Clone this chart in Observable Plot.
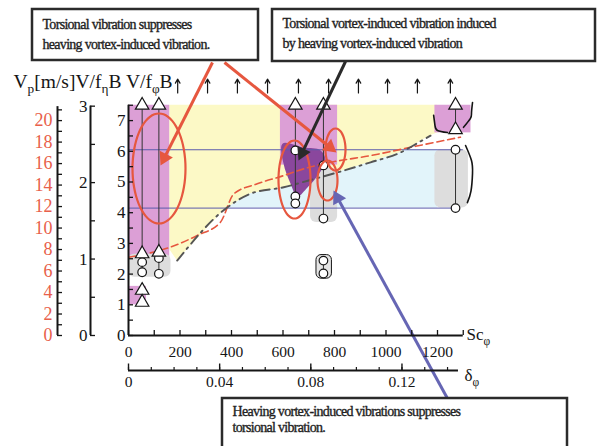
<!DOCTYPE html>
<html>
<head>
<meta charset="utf-8">
<script src="https://cdn.jsdelivr.net/npm/d3@7"></script>
<script src="https://cdn.jsdelivr.net/npm/@observablehq/plot@0.6"></script>
<style>
html,body{margin:0;padding:0;background:#fff;}
#chart svg{display:block;}
</style>
</head>
<body>
<div id="chart"></div>
<script>
// ---------------- data ----------------
// Sc_phi axis ticks / labels
const scTicks = d3.range(0, 1301, 100);
const scLabels = [0, 200, 400, 600, 800, 1000, 1200];
// delta_phi axis ticks / labels
const deltaTicks = d3.range(0, 15).map(i => i / 100);
const deltaMajor = [0, 0.04, 0.08, 0.12];
const deltaLabels = ["0", "0.04", "0.08", "0.12"];
// V/f_phi B axis
const vTicks = d3.range(0, 16).map(i => i / 2);
const vLabels = [0, 1, 2, 3, 4, 5, 6, 7];
// V/f_eta B axis
const etaTicks = [0, 0.5, 1, 1.5, 2, 2.5, 3];
const etaLabels = [0, 1, 2, 3];
// Vp [m/s] axis
const vpTicks = d3.range(0, 22);
const vpLabels = d3.range(0, 21, 2);

// red dashed boundary  [Sc, V/f_phi B]
const redDash = [[1,2.55],[163,2.88],[267,3.26],[357,3.69],[409,4.61],[500,4.94],[603,5.21],[681,5.43],[791,5.65],[940,5.86],[1095,6.13],[1289,6.46]];
// grey dash-dot boundary
const dashDot = [[189,2.44],[377,4.13],[474,4.62],[603,4.83],[700,5.05],[811,5.31],[940,5.64],[1056,5.96],[1127,6.29],[1173,6.51]];
// lower edge of the yellow zone
const yellowEdge = [[160,2.8],[189,2.44],[377,4.13],[474,4.62],[603,4.83],[700,5.05],[811,5.31],[940,5.64],[1056,5.96],[1127,6.29],[1173,6.51],[1200,6.6]];
const yellowTop = 7.5;
// coloured zones
const cyanZones = [{x1:160, x2:1200, y1:4.15, y2:6.05}];
const pinkZones = [
  {x1:0, x2:160, y1:2.55, y2:7.5},
  {x1:0, x2:70, y1:1.0, y2:1.6},
  {x1:590, x2:812, y1:5.55, y2:7.5},
  {x1:1190, x2:1330, y1:6.6, y2:7.5}
];
const greyZones = [
  {x1:0, x2:165, y1:1.9, y2:2.65},
  {x1:707, x2:812, y1:3.68, y2:5.45},
  {x1:1190, x2:1320, y1:4.15, y2:6.05}
];
const greyBlob = [{x1:730, x2:790, y1:1.85, y2:2.62}];
const purpleZone = [[598,6.25],[680,6.12],[746,6.03],[765,5.7],[726,5.11],[695,4.82],[656,4.53],[629,4.95],[602,5.6]];
// horizontal blue lines
const hLines = [{v:6.05, x1:0, x2:1300}, {v:4.15, x1:0, x2:1270}];
// vertical measurement ranges
const colLines = [
  {sc:53, v1:2.06, v2:7.5}, {sc:118, v1:2.01, v2:7.5}, {sc:53, v1:1.08, v2:1.47},
  {sc:648, v1:4.3, v2:7.5}, {sc:757, v1:3.81, v2:7.5}, {sc:757, v1:2.02, v2:2.44},
  {sc:1270, v1:4.15, v2:6.05}, {sc:1270, v1:6.7, v2:7.5}
];
const circles = [[53,2.39],[53,2.06],[118,2.52],[118,2.01],[648,6.03],[648,4.53],[648,4.3],[757,5.54],[757,3.81],[757,2.44],[757,2.02],[1270,6.05],[1270,4.15]];
const triangles = [[53,7.5],[118,7.5],[53,2.66],[118,2.71],[53,1.47],[53,1.08],[648,7.5],[757,7.5],[1270,7.5],[1270,6.7]];
// "beyond range" up arrows
const arrowCols = [191, 307, 423, 540, 660, 777, 893, 1006, 1122, 1250];
const arrowFrom = 7.9, arrowTo = 8.35;
// hand-drawn brackets
const brackets = [
  {id:"a", pts:[[1309,6.19],[1332,5.7],[1336,5.28],[1330,4.7],[1316,4.33]]},
  {id:"b", pts:[[1185,7.17],[1190,6.85],[1200,6.68],[1239,6.61]]},
  {id:"c", pts:[[1336,7.59],[1332,7.25],[1328,7.07],[1301,6.78]]}
];

// unit conversions of the secondary axes
const VP_TO_V = 0.35, ETA_TO_V = 2.49, DELTA_TO_SC = 8850;

// ---------------- layout ----------------
const W = 597, H = 446;
const X0 = 128, Y0 = 335, KX = 0.2575, KY = 30.7; // px of origin, px per unit
const px2x = px => (px - X0) / KX;
const py2y = py => (Y0 - py) / KY;
const xDomain = [px2x(0), px2x(W)];
const yDomain = [py2y(H), py2y(0)];
const SERIF = "Liberation Serif";
const C = {
  pink: "#dc9fd6", yellow: "#fcf9c6", cyan: "#e2f4fa", grey: "#dddddd",
  purple: "#8a479d", red: "#e6573f", blue: "#5b5bab", navy: "#6666b4",
  ink: "#151515", dash: "#555555"
};
const TX = 5 / KX, TY = 5 / KY;   // 5px tick lengths in data units

// annotation boxes (px layout)
const boxes = [
  {x1:32, x2:258, y1:9, y2:60},
  {x1:272, x2:595, y1:9, y2:61},
  {x1:222, x2:567, y1:398, y2:470}
];
const boxText = [
  {x:42, y:28, t:"Torsional vibration suppresses"},
  {x:42, y:48, t:"heaving vortex-induced vibration."},
  {x:282, y:27, t:"Torsional vortex-induced vibration induced"},
  {x:282, y:47, t:"by heaving vortex-induced vibration"},
  {x:232, y:415, t:"Heaving vortex-induced vibrations suppresses"},
  {x:232, y:431, t:"torsional vibration."}
];
const annoArrows = [
  {x1:212, y1:62, x2:160, y2:165, c:C.red},
  {x1:224, y1:62, x2:336, y2:152, c:C.red},
  {x1:345, y1:61, x2:298, y2:160, c:"#2a2a2a"},
  {x1:447, y1:398, x2:333, y2:190, c:C.navy}
];
const ellipses = [
  {cx:158.5, cy:168, rx:26.5, ry:55},
  {cx:294, cy:179, rx:16, ry:39},
  {cx:335, cy:149, rx:10, ry:21},
  {cx:327, cy:180, rx:10, ry:20}
];

// arrow geometry in px, converted to data units
const HEAD_R = 5.5;
const headTip = Math.sqrt(Math.PI * HEAD_R * HEAD_R / (Math.sqrt(3) * 3)) * 2;
const arrowLines = [], arrowHeads = [];
annoArrows.forEach((a, i) => {
  const dx = a.x2 - a.x1, dy = a.y2 - a.y1, L = Math.hypot(dx, dy);
  const ux = dx / L, uy = dy / L;
  arrowLines.push({x1:px2x(a.x1), y1:py2y(a.y1), x2:px2x(a.x2 - ux*8), y2:py2y(a.y2 - uy*8), c:a.c});
  arrowHeads.push({x:px2x(a.x2 - ux*headTip), y:py2y(a.y2 - uy*headTip), rot:Math.atan2(dx, -dy)*180/Math.PI, c:a.c});
});
const ellipsePts = [];
ellipses.forEach((e, k) => {
  d3.range(0, 360, 10).forEach(a => {
    const r = a * Math.PI / 180;
    ellipsePts.push({k, x:px2x(e.cx + e.rx*Math.cos(r)), y:py2y(e.cy + e.ry*Math.sin(r))});
  });
});

const topLabel = [{x:px2x(13), y:py2y(87), t:"V_{p}[m/s]V/f_{η}B V/f_{φ}B"}];
const axisNames = [
  {x:px2x(466), y:py2y(339), t:"Sc_{φ}"},
  {x:px2x(464), y:py2y(380), t:"δ_{φ}"}
];

const chart = Plot.plot({
  width: W, height: H, margin: 0,
  x: {domain: xDomain, axis: null},
  y: {domain: yDomain, axis: null},
  style: {fontFamily: SERIF, background: "#fff", color: C.ink},
  marks: [
    // zones
    Plot.rect(cyanZones, {x1:"x1", x2:"x2", y1:"y1", y2:"y2", fill:C.cyan}),
    Plot.areaY(yellowEdge, {x:d=>d[0], y1:d=>d[1], y2:yellowTop, fill:C.yellow}),
    Plot.rect(pinkZones, {x1:"x1", x2:"x2", y1:"y1", y2:"y2", fill:C.pink}),
    Plot.rect(greyZones, {x1:"x1", x2:"x2", y1:"y1", y2:"y2", fill:C.grey, rx:6}),
    Plot.rect(greyBlob, {x1:"x1", x2:"x2", y1:"y1", y2:"y2", fill:"#e4e4e4", stroke:C.ink, strokeWidth:1, rx:5}),
    Plot.line(purpleZone, {x:d=>d[0], y:d=>d[1], fill:C.purple, stroke:"none", curve:"catmull-rom-closed"}),
    // reference lines
    Plot.ruleY(hLines, {y:"v", x1:"x1", x2:"x2", stroke:C.blue, strokeWidth:1}),
    Plot.line(redDash, {x:d=>d[0], y:d=>d[1], stroke:C.red, strokeWidth:1.6, strokeDasharray:"7,4", curve:"monotone-x"}),
    Plot.line(dashDot, {x:d=>d[0], y:d=>d[1], stroke:C.dash, strokeWidth:1.9, strokeDasharray:"10,5,2,5", curve:"monotone-x"}),
    // brackets
    ...brackets.map(b => Plot.line(b.pts, {x:d=>d[0], y:d=>d[1], stroke:C.ink, strokeWidth:1.6, curve:"natural"})),
    // measured ranges
    Plot.ruleX(colLines, {x:"sc", y1:"v1", y2:"v2", stroke:"#333", strokeWidth:1}),
    Plot.dot(circles, {x:d=>d[0], y:d=>d[1], r:4.3, fill:"#fff", stroke:C.ink, strokeWidth:1.2}),
    Plot.dot(triangles, {x:d=>d[0], y:d=>d[1], symbol:"triangle", r:5, fill:"#fff", stroke:C.ink, strokeWidth:1.2}),
    Plot.arrow(arrowCols, {x1:d=>d, x2:d=>d, y1:arrowFrom, y2:arrowTo, stroke:C.ink, strokeWidth:1.2, headLength:6}),
    // red ellipses
    Plot.line(ellipsePts, {x:"x", y:"y", z:"k", stroke:C.red, strokeWidth:2.2, curve:"catmull-rom-closed"}),
    // annotation arrows
    Plot.link(arrowLines, {x1:"x1", y1:"y1", x2:"x2", y2:"y2", stroke:d=>d.c, strokeWidth:3}),
    Plot.dot(arrowHeads, {x:"x", y:"y", rotate:"rot", symbol:"triangle", r:HEAD_R, fill:d=>d.c, stroke:"none"}),
    // main y axis (V/f_phi B)
    Plot.ruleX([0], {y1:0, y2:7.5, stroke:C.ink, strokeWidth:2}),
    Plot.ruleY(vTicks, {y:d=>d, x1:0, x2:TX, stroke:C.ink, strokeWidth:1.3}),
    Plot.text(vLabels, {x:0, y:d=>d, text:d=>String(d), textAnchor:"end", dx:-3, fontSize:17, fontFamily:SERIF, fill:C.ink}),
    // V/f_eta B axis
    Plot.ruleX([0], {y1:0, y2:3*ETA_TO_V, dx:-38, stroke:C.ink, strokeWidth:2}),
    Plot.ruleY(etaTicks, {y:d=>d*ETA_TO_V, x1:0, x2:TX, dx:-38, stroke:C.ink, strokeWidth:1.3}),
    Plot.text(etaLabels, {x:0, y:d=>d*ETA_TO_V, text:d=>String(d), textAnchor:"end", dx:-41, fontSize:17, fontFamily:SERIF, fill:C.ink}),
    // Vp axis
    Plot.ruleX([0], {y1:0, y2:21.3*VP_TO_V, dx:-71, stroke:C.ink, strokeWidth:2}),
    Plot.ruleY(vpTicks, {y:d=>d*VP_TO_V, x1:0, x2:TX, dx:-71, stroke:C.ink, strokeWidth:1.3}),
    Plot.text(vpLabels, {x:0, y:d=>d*VP_TO_V, text:d=>String(d), textAnchor:"end", dx:-76, fontSize:18, fontFamily:SERIF, fill:"#e8604a"}),
    // Sc axis
    Plot.ruleY([0], {x1:0, x2:1300, stroke:C.ink, strokeWidth:2}),
    Plot.ruleX(scTicks, {x:d=>d, y1:0, y2:TY, stroke:C.ink, strokeWidth:1.3}),
    Plot.text(scLabels, {x:d=>d, y:0, text:d=>String(d), dy:17, fontSize:15.5, fontFamily:SERIF, fill:C.ink}),
    // delta axis
    Plot.ruleY([0], {x1:0, x2:0.1448*DELTA_TO_SC, dy:35, stroke:C.ink, strokeWidth:2}),
    Plot.ruleX(deltaTicks, {x:d=>d*DELTA_TO_SC, y1:0, y2:TY*0.6, dy:35, stroke:C.ink, strokeWidth:1.2}),
    Plot.ruleX(deltaMajor, {x:d=>d*DELTA_TO_SC, y1:0, y2:TY*1.3, dy:35, stroke:C.ink, strokeWidth:1.4}),
    Plot.text(deltaMajor, {x:d=>d*DELTA_TO_SC, y:0, text:(d,i)=>deltaLabels[i], dy:47, fontSize:15.5, fontFamily:SERIF, fill:C.ink}),
    // axis names
    Plot.text(topLabel, {x:"x", y:"y", text:"t", textAnchor:"start", lineAnchor:"bottom", fontSize:19.5, fontFamily:SERIF, fill:C.ink}),
    Plot.text(axisNames, {x:"x", y:"y", text:"t", textAnchor:"start", lineAnchor:"bottom", fontSize:17, fontFamily:SERIF, fill:C.ink}),
    // annotation boxes
    Plot.rect(boxes, {x1:d=>px2x(d.x1), x2:d=>px2x(d.x2), y1:d=>py2y(d.y2), y2:d=>py2y(d.y1), fill:"#fff", stroke:"#2b2b2b", strokeWidth:2.5}),
    Plot.text(boxText, {x:d=>px2x(d.x), y:d=>py2y(d.y), text:"t", textAnchor:"start", lineAnchor:"bottom", fontSize:14, fontFamily:SERIF, fill:"#1e1e1e", stroke:"#1e1e1e", strokeWidth:0.35})
  ]
});

// subscripts (V_{p} -> V with lowered p) and tight annotation lettering
const annoSet = new Set(boxText.map(d => d.t));
chart.querySelectorAll("text").forEach(t => {
  const s = t.textContent;
  if (annoSet.has(s)) { t.setAttribute("letter-spacing", "-0.7"); return; }
  if (!s.includes("_{")) return;
  const fs = parseFloat(t.closest("[font-size]")?.getAttribute("font-size")) || 18;
  while (t.firstChild) t.removeChild(t.firstChild);
  let lowered = false;
  s.split(/(_\{[^}]*\})/).forEach(p => {
    if (!p) return;
    const ts = document.createElementNS("http://www.w3.org/2000/svg", "tspan");
    if (p.startsWith("_{")) {
      ts.textContent = p.slice(2, -1);
      ts.setAttribute("font-size", (fs * 0.68).toFixed(1));
      ts.setAttribute("dy", (fs * 0.3).toFixed(1));
      lowered = true;
    } else {
      ts.textContent = p;
      if (lowered) ts.setAttribute("dy", (-fs * 0.3).toFixed(1));
      lowered = false;
    }
    t.appendChild(ts);
  });
});

document.getElementById("chart").appendChild(chart);
</script>
</body>
</html>
